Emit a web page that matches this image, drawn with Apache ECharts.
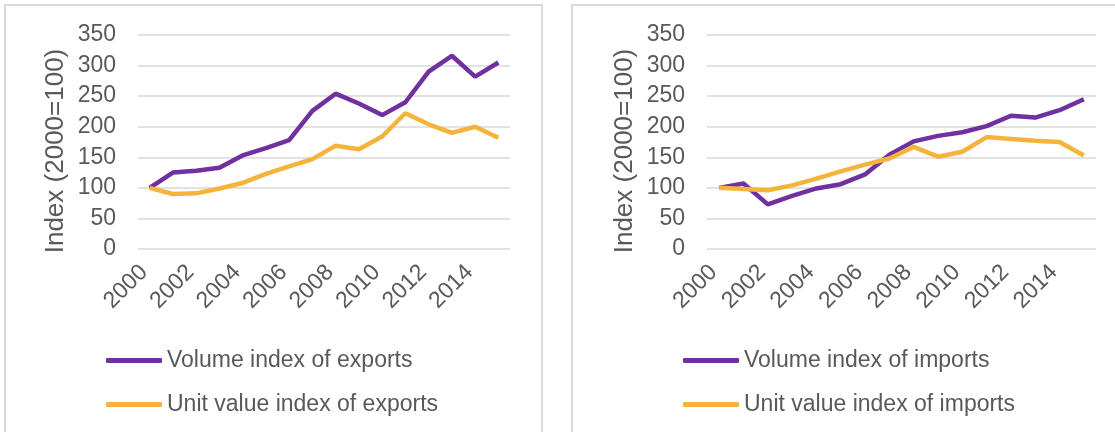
<!DOCTYPE html>
<html>
<head>
<meta charset="utf-8">
<script src="https://cdn.jsdelivr.net/npm/echarts@6/dist/echarts.min.js"></script>
<style>
  html, body { margin: 0; padding: 0; background: #fff; }
  #chart { width: 1115px; height: 432px; }
</style>
</head>
<body>
<div id="chart"></div>
<script>
// years on the x axis
var years = ["2000","2001","2002","2003","2004","2005","2006","2007",
             "2008","2009","2010","2011","2012","2013","2014","2015"];

// left panel: exports
var volumeExports = [100,125,128,133,153,165,178,226,254,238,219,240,290,316,282,305];
var unitValueExports = [100,90,91,99,108,123,135,147,169,163,184,222,204,190,200,182];

// right panel: imports
var volumeImports = [100,107,73,87,99,106,122,154,176,185,191,201,218,215,227,245];
var unitValueImports = [100,98,96,104,115,127,138,148,167,151,159,183,180,177,175,153];

var yTicks = { min: 0, max: 350, interval: 50 };

var purple = "#7030A0";
var gold = "#F4B43C";
var textColor = "#595959";
var font = "Liberation Sans, Arial, sans-serif";

function yAxis(gridIndex) {
  return {
    type: "value",
    gridIndex: gridIndex,
    min: yTicks.min,
    max: yTicks.max,
    interval: yTicks.interval,
    name: "Index (2000=100)",
    nameLocation: "middle",
    nameGap: 69,
    nameTextStyle: { fontSize: 26, color: textColor, fontFamily: font, padding: [0, 0, 0, -18] },
    axisLine: { show: false },
    axisTick: { show: false },
    axisLabel: { fontSize: 23, color: textColor, fontFamily: font, margin: 22 },
    splitLine: { lineStyle: { color: "#D9D9D9", width: 1.5 } }
  };
}

function xAxis(gridIndex) {
  return {
    type: "category",
    gridIndex: gridIndex,
    data: years,
    boundaryGap: true,
    axisLine: { show: false },
    axisTick: { show: false },
    // right padding nudges the rotated labels left, like Excel's anchoring
    axisLabel: { interval: 1, rotate: 45, fontSize: 23, color: textColor, fontFamily: font, margin: 14, padding: [0, 8, 0, 0] }
  };
}

function line(name, data, color, idx) {
  return {
    name: name,
    type: "line",
    xAxisIndex: idx,
    yAxisIndex: idx,
    data: data,
    symbol: "none",
    color: color,
    lineStyle: { color: color, width: 4.5 },
    animation: false
  };
}

var legendText = { fontSize: 23, color: textColor, fontFamily: font, lineHeight: 23 };

function legend(names, left) {
  return {
    data: names,
    orient: "vertical", left: left, top: 344,
    icon: "roundRect",
    itemWidth: 56, itemHeight: 5, itemGap: 21,
    textStyle: legendText
  };
}

var chart = echarts.init(document.getElementById("chart"));
chart.setOption({
  backgroundColor: "#fff",
  animation: false,
  grid: [
    { left: 138, right: 605, top: 35, bottom: 183 },
    { left: 707, right: 19, top: 35, bottom: 183 }
  ],
  xAxis: [xAxis(0), xAxis(1)],
  yAxis: [yAxis(0), yAxis(1)],
  legend: [
    legend(["Volume index of exports", "Unit value index of exports"], 101),
    legend(["Volume index of imports", "Unit value index of imports"], 678)
  ],
  series: [
    line("Volume index of exports", volumeExports, purple, 0),
    line("Unit value index of exports", unitValueExports, gold, 0),
    line("Volume index of imports", volumeImports, purple, 1),
    line("Unit value index of imports", unitValueImports, gold, 1)
  ],
  graphic: [
    { type: "rect", shape: { x: 5, y: 5, width: 537, height: 500 }, style: { fill: "none", stroke: "#D9D9D9", lineWidth: 2 } },
    { type: "rect", shape: { x: 572, y: 5, width: 600, height: 500 }, style: { fill: "none", stroke: "#D9D9D9", lineWidth: 2 } }
  ]
});
</script>
</body>
</html>
